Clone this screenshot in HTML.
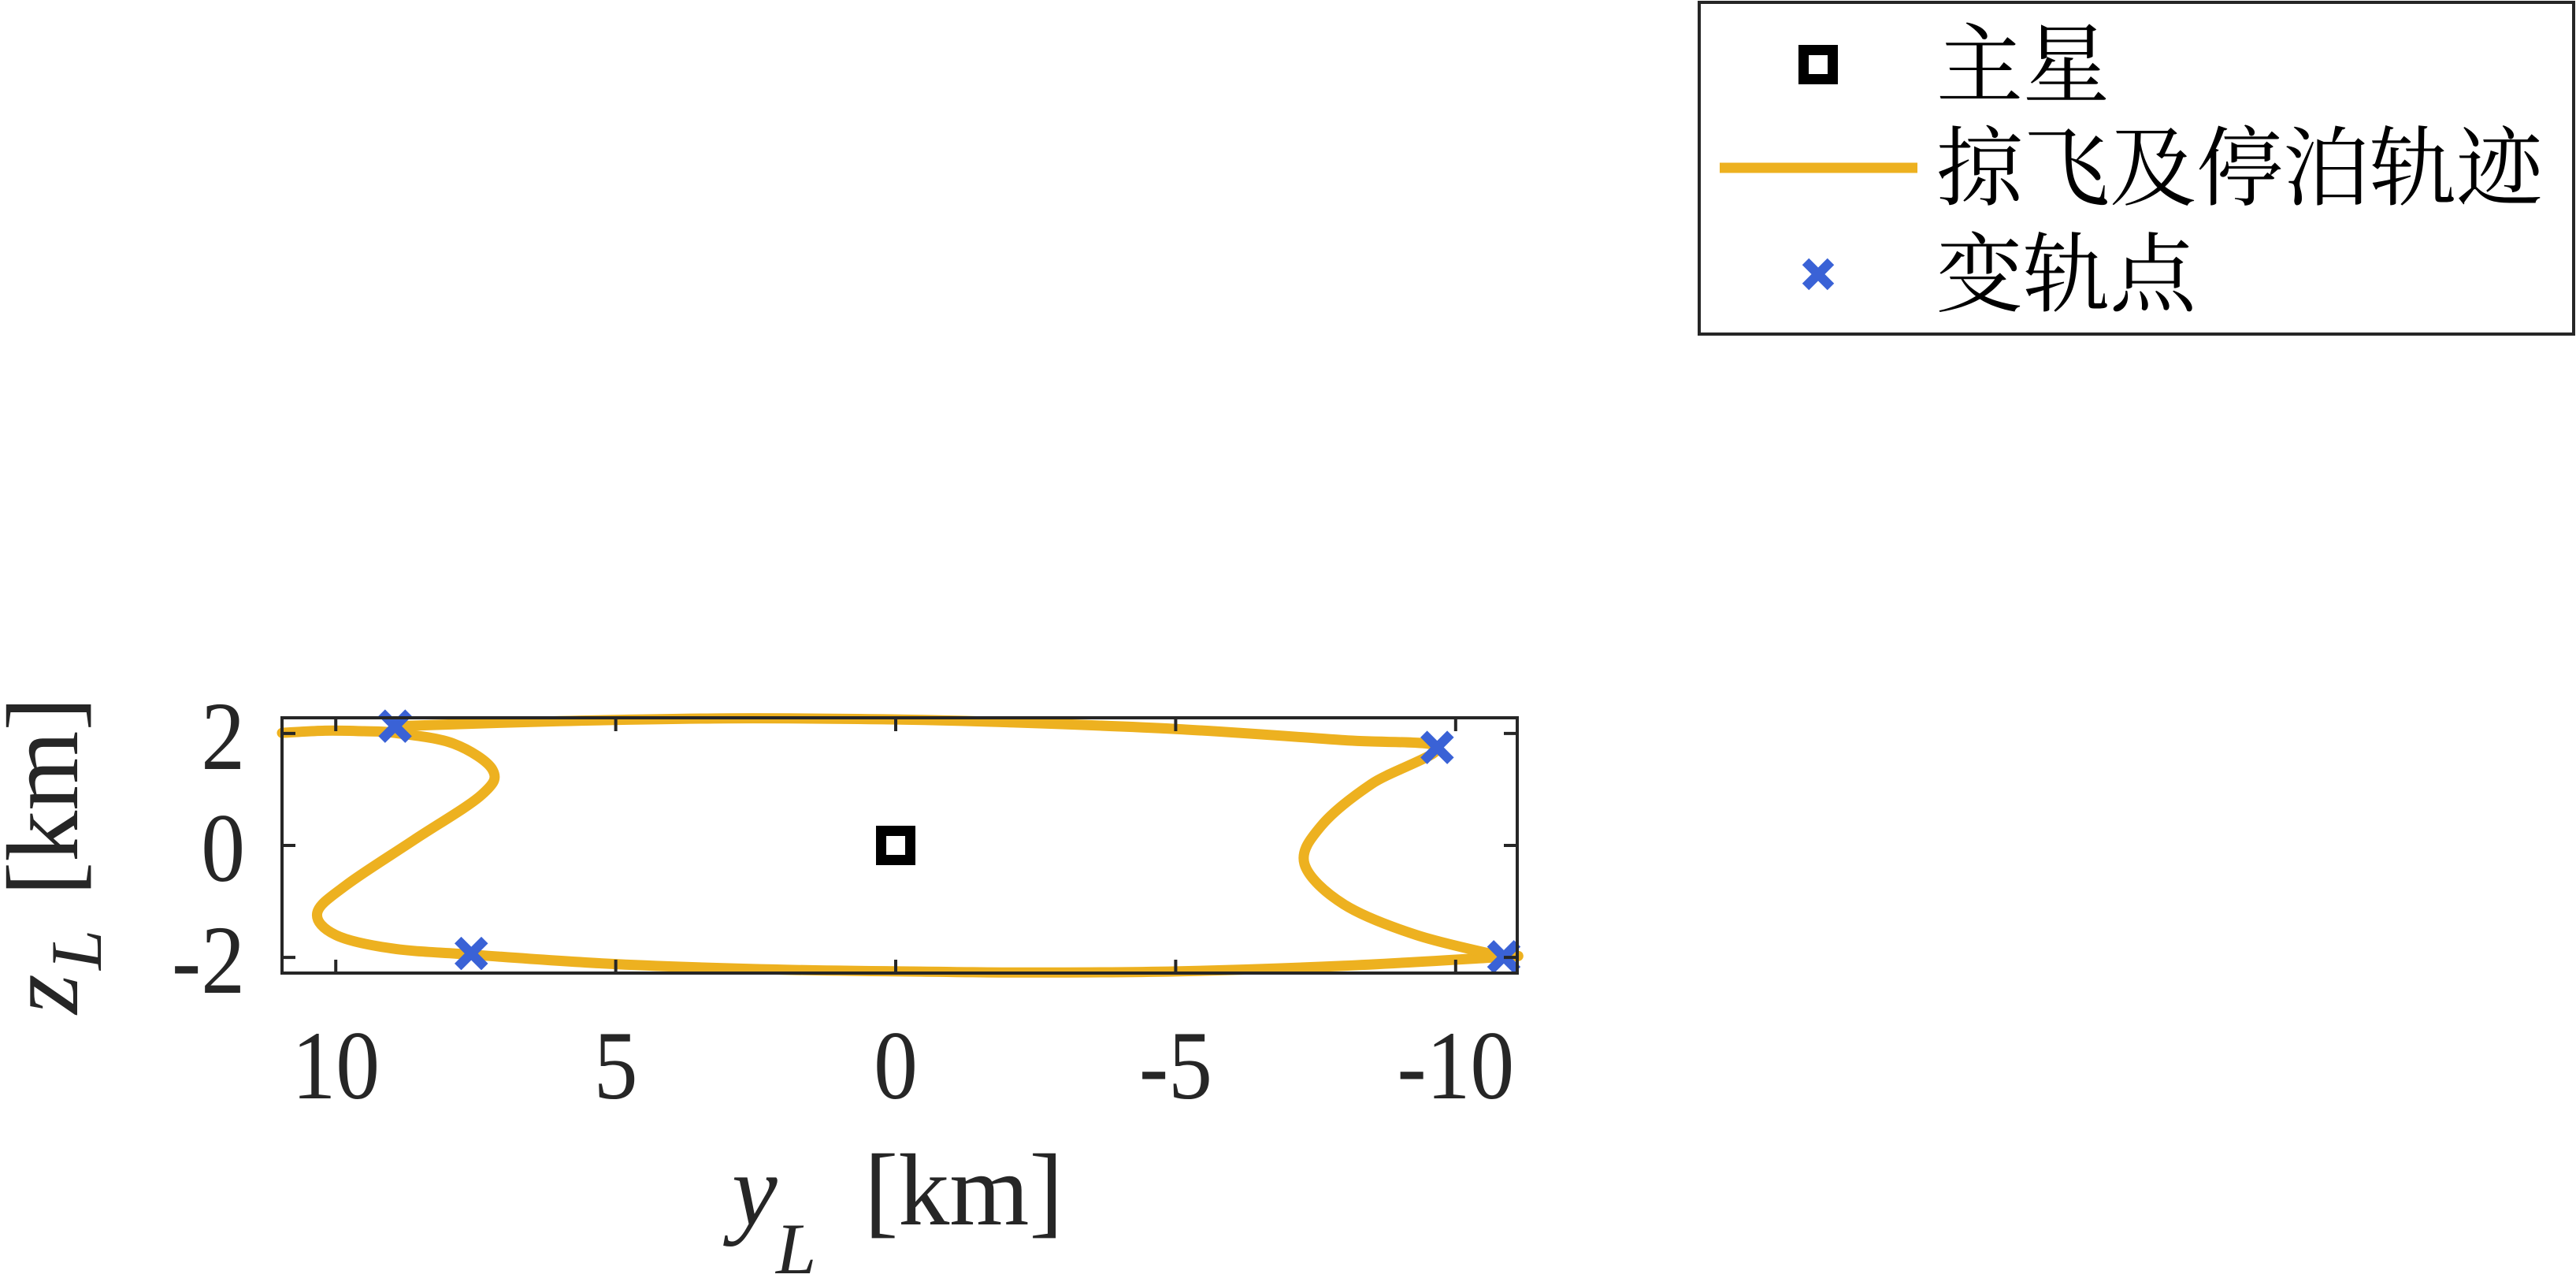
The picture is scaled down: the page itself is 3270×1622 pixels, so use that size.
<!DOCTYPE html>
<html><head><meta charset="utf-8"><style>
html,body{margin:0;padding:0;background:#fff;}
svg{display:block;}
text{font-family:"Liberation Serif","Times New Roman",serif;fill:#262626;}
text.cjk{font-family:"Liberation Serif","Noto Serif CJK SC",serif;fill:#000;}
</style></head><body>
<svg id="chart" width="3270" height="1622" viewBox="0 0 3270 1622" xmlns="http://www.w3.org/2000/svg">
<rect width="3270" height="1622" fill="#fff"/>
<g id="plot"></g>
<g id="axes"></g>
<g transform="translate(98,1287) rotate(-90)">
<text x="0" y="0" font-size="130" font-style="italic">z</text>
<text x="56" y="30" font-size="92" font-style="italic">L</text>
<text x="150" y="0" font-size="130">[km]</text>
</g>
<g transform="translate(929,1554)">
<text x="0" y="0" font-size="130" font-style="italic">y</text>
<text x="56" y="62" font-size="92" font-style="italic">L</text>
<text x="168" y="0" font-size="130">[km]</text>
</g>
<g>
<rect x="2157" y="3" width="1110" height="421" fill="#fff" stroke="#262626" stroke-width="4"/>
<g>
<rect x="2289.5" y="63.5" width="37" height="37" fill="none" stroke="#000" stroke-width="13"/>
<text class="cjk" x="2458" y="121" font-size="110">主星</text>
</g>
<g>
<line x1="2183" y1="213" x2="2434" y2="213" stroke="#EDB120" stroke-width="13"/>
<text class="cjk" x="2458" y="252" font-size="110">掠飞及停泊轨迹</text>
</g>
<g>
<path d="M2292 332 L2324 364 M2324 332 L2292 364" stroke="#3A62D6" stroke-width="12"/>
<text class="cjk" x="2458" y="387" font-size="110">变轨点</text>
</g>
</g>
</svg>
<script>
const xTicks = [10, 5, 0, -5, -10];
const xTickLabels = ["10", "5", "0", "-5", "-10"];
const yTicks = [2, 0, -2];
const yTickLabels = ["2", "0", "-2"];
// trajectory segment A (y_L, z_L)
const segAY = [10.96,10.2,9.5,8.94,7.9,7.2,7.4,8.6,9.8,10.33,10.0,9.0,7.58,5,2,-1,-2.5,-5,-8,-10.86,-11.0];
const segAZ = [2.01,2.05,2.04,2.01,1.82,1.35,0.9,0.1,-0.7,-1.2,-1.6,-1.84,-1.95,-2.12,-2.22,-2.26,-2.27,-2.25,-2.15,-1.99,-1.98];
// trajectory segment B
const segBY = [-10.86,-9.3,-8.0,-7.3,-7.6,-8.5,-9.67,-8,-5,-2,0,3,6,8.94];
const segBZ = [-1.99,-1.6,-1.05,-0.33,0.35,1.1,1.75,1.88,2.08,2.2,2.25,2.27,2.22,2.13];
const markerY = [8.94, 7.58, -9.67, -10.86];
const markerZ = [2.13, -1.93, 1.75, -1.99];
const mainY = [0];
const mainZ = [0];

const L=358, R=1926, T=911, B=1235;
const xMin=10.96, xMax=-11.1, yMin=-2.28, yMax=2.28;
const sx = v => L + (xMin - v) / (xMin - xMax) * (R - L);
const sy = v => B - (v - yMin) / (yMax - yMin) * (B - T);
const NS="http://www.w3.org/2000/svg";
const plot=document.getElementById('plot'), axes=document.getElementById('axes');
function mk(tag, attrs, parent){const e=document.createElementNS(NS,tag);for(const k in attrs)e.setAttribute(k,attrs[k]);parent.appendChild(e);return e;}

function smoothPath(xs, zs){
  const p = xs.map((v,i)=>[sx(v), sy(zs[i])]);
  let d = `M${p[0][0]},${p[0][1]}`;
  for(let i=0;i<p.length-1;i++){
    const p0=p[Math.max(i-1,0)], p1=p[i], p2=p[i+1], p3=p[Math.min(i+2,p.length-1)];
    const c1=[p1[0]+(p2[0]-p0[0])/6, p1[1]+(p2[1]-p0[1])/6];
    const c2=[p2[0]-(p3[0]-p1[0])/6, p2[1]-(p3[1]-p1[1])/6];
    d += ` C${c1[0]},${c1[1]} ${c2[0]},${c2[1]} ${p2[0]},${p2[1]}`;
  }
  return d;
}

const box = mk('rect',{x:L,y:T,width:R-L,height:B-T,fill:'none',stroke:'#262626','stroke-width':4},axes);


xTicks.forEach((t,i)=>{
  const x=sx(t);
  const tk=mk('path',{d:`M${x},${B} V${B-17} M${x},${T} V${T+17}`,stroke:'#262626','stroke-width':4},axes);
  
  
  const tx=mk('text',{transform:`translate(${x},1394) scale(0.9,1)`,'text-anchor':'middle','font-size':124},axes);
  tx.textContent=xTickLabels[i];
  
  
});
yTicks.forEach((t,i)=>{
  const y=sy(t);
  const tk=mk('path',{d:`M${L},${y} H${L+17} M${R},${y} H${R-17}`,stroke:'#262626','stroke-width':4},axes);
  
  
  const tx=mk('text',{transform:`translate(311,${y+45}) scale(0.9,1)`,'text-anchor':'end','font-size':124},axes);
  tx.textContent=yTickLabels[i];
  
  
});

const pa=mk('path',{d:smoothPath(segAY,segAZ),fill:'none',stroke:'#EDB120','stroke-width':13,'stroke-linecap':'round','stroke-linejoin':'round'},plot);


const pb=mk('path',{d:smoothPath(segBY,segBZ),fill:'none',stroke:'#EDB120','stroke-width':13,'stroke-linecap':'round','stroke-linejoin':'round'},plot);



mainY.forEach((v,i)=>{
  const x=sx(v), y=sy(mainZ[i]);
  const s=mk('rect',{x:x-18.5,y:y-18.5,width:37,height:37,fill:'none',stroke:'#000','stroke-width':13},plot);
  
  
});
markerY.forEach((v,i)=>{
  const x=sx(v), y=sy(markerZ[i]);
  const m=mk('path',{d:`M${x-17},${y-17} L${x+17},${y+17} M${x+17},${y-17} L${x-17},${y+17}`,stroke:'#3A62D6','stroke-width':12},plot);
  
  
});
</script>
</body></html>
